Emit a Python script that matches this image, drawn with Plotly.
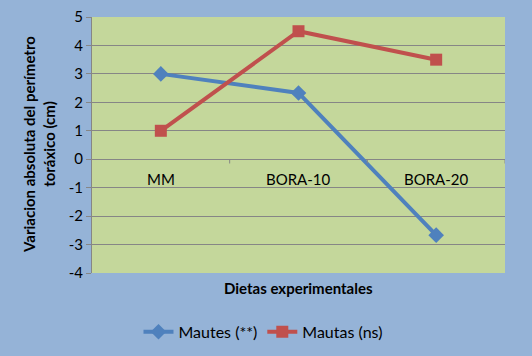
import plotly.graph_objects as go

categories = ["MM", "BORA-10", "BORA-20"]
mautes = [3.0, 2.33, -2.67]
mautas = [1.0, 4.5, 3.5]
y_ticks = [5, 4, 3, 2, 1, 0, -1, -2, -3, -4]

FONT = "Lato, Carlito, 'Open Sans', sans-serif"
fig = go.Figure()
fig.add_trace(go.Scatter(x=categories, y=mautes, mode="lines+markers", name="Mautes (**)",
                         line=dict(color="#4F81BD", width=4),
                         marker=dict(symbol="diamond", size=12, color="#4F81BD")))
fig.add_trace(go.Scatter(x=categories, y=mautas, mode="lines+markers", name="Mautas (ns)",
                         line=dict(color="#C0504D", width=4),
                         marker=dict(symbol="square", size=12, color="#C0504D")))

# category labels sitting under the zero line
for c in categories:
    fig.add_annotation(x=c, y=0, xref="x", yref="y", text=c, showarrow=False,
                       yanchor="top", yshift=-9, font=dict(size=15, color="#000", family=FONT))
# small tick marks on the zero line between categories
for i in range(len(categories)):
    fig.add_shape(type="line", xref="x", yref="y", x0=i + 0.5, x1=i + 0.5, y0=0, y1=-0.15,
                  line=dict(color="#868686", width=1))

fig.add_annotation(x=0.5, y=0, xref="paper", yref="paper", text="<b>Dietas experimentales</b>",
                   showarrow=False, yanchor="top", yshift=-4, font=dict(size=15, color="#000", family=FONT))
fig.add_annotation(x=0, y=0.5, xref="paper", yref="paper",
                   text="<b>Variacion absoluta del perímetro<br>toráxico (cm)</b>",
                   showarrow=False, textangle=-90, xanchor="center", xshift=-53,
                   font=dict(size=15, color="#000", family=FONT))

fig.update_layout(
    width=532, height=356,
    margin=dict(l=92, r=27, t=17, b=83, autoexpand=False),
    paper_bgcolor="#95B3D7", plot_bgcolor="#C4D79B",
    font=dict(family=FONT, size=15, color="#000"),
    showlegend=True,
    legend=dict(orientation="h", x=0.414, xanchor="center", y=-0.23, yanchor="middle",
                bgcolor="rgba(0,0,0,0)", font=dict(size=16, family=FONT)),
    xaxis=dict(type="category", range=[-0.5, 2.5], showticklabels=False, showgrid=False,
               showline=False, zeroline=False, ticks="", automargin=False),
    yaxis=dict(range=[-4, 5], tickvals=y_ticks, ticktext=[str(v) for v in y_ticks],
               showgrid=True, gridcolor="#868686", gridwidth=1,
               zeroline=True, zerolinecolor="#868686", zerolinewidth=1,
               showline=True, linecolor="#868686", linewidth=1,
               ticks="outside", ticklen=5, tickcolor="#868686", automargin=False,
               tickfont=dict(size=15, family=FONT)),
)
fig.write_html("out.html", config={"displayModeBar": False},
               post_script="document.body.style.margin='0';document.body.style.background='#95B3D7';")
